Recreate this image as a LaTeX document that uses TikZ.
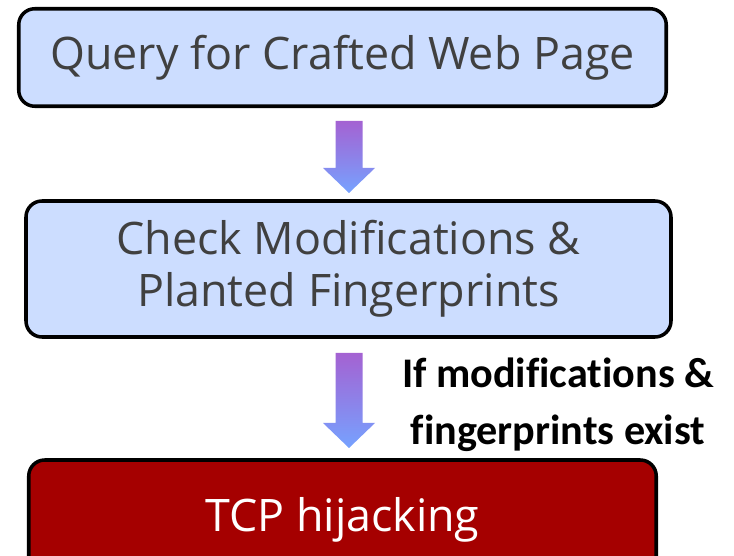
\documentclass[tikz,border=0pt]{standalone}
\usepackage{fontspec}
\setmainfont{Open Sans}
\newfontfamily\labelfont[Ligatures=CommonOff]{Carlito}
\usetikzlibrary{calc}

\definecolor{boxblue}{RGB}{204,221,255}
\definecolor{boxred}{RGB}{165,0,0}
\definecolor{textgray}{RGB}{64,64,64}
\definecolor{arrowtop}{RGB}{164,98,210}
\definecolor{arrowbot}{RGB}{118,162,255}

\tikzset{
  stepbox/.style={draw=black, line width=2pt, rounded corners=0.32cm, fill=boxblue,
    text=textgray, align=center, font=\fontsize{25.5}{29.5}\selectfont},
  alertbox/.style={stepbox, fill=boxred, text=white},
  flowarrow/.style={top color=arrowtop, bottom color=arrowbot}
}

\begin{document}
\begin{tikzpicture}
  \useasboundingbox (0,0) rectangle (14.68,-11.12);
  \clip (0,0) rectangle (14.68,-11.12);

  \node[stepbox, minimum width=12.95cm, minimum height=1.95cm] (query) at (6.85,-1.15) {Query for Crafted Web Page};
  \node[stepbox, minimum width=12.9cm, minimum height=2.72cm] (check) at (6.97,-5.38) {Check Modifications \&\\Planted Fingerprints};
  \node[alertbox, minimum width=12.55cm, minimum height=2.4cm] (hijack) at (6.85,-10.4) {TCP hijacking};

  \coordinate (a1top) at (6.98,-2.42);
  \coordinate (a1tip) at (6.98,-3.86);
  \coordinate (a2top) at (6.98,-7.06);
  \coordinate (a2tip) at (6.98,-8.96);

  % fat shaded arrows between the boxes
  \foreach \s/\t in {a1top/a1tip, a2top/a2tip} {
    \shade[flowarrow] ($(\s)+(-0.27,0)$) -- ($(\s)+(0.27,0)$) -- ($(\t)+(0.27,0.5)$)
      -- ($(\t)+(0.52,0.5)$) -- (\t) -- ($(\t)+(-0.52,0.5)$) -- ($(\t)+(-0.27,0.5)$) -- cycle;
  }

  \node[align=center, font=\labelfont\bfseries\fontsize{24}{32.5}\selectfont] (cond) at (11.16,-8.1) {If modifications \&\\fingerprints exist};
\end{tikzpicture}
\end{document}
